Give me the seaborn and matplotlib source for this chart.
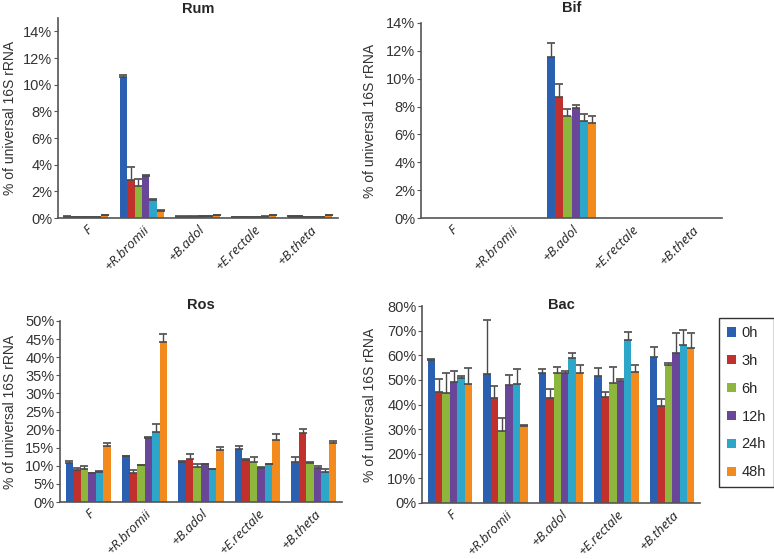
import matplotlib
matplotlib.use("Agg")
import matplotlib.pyplot as plt
import seaborn as sns
import pandas as pd
import numpy as np
from matplotlib.ticker import FuncFormatter
from matplotlib.patches import Patch

groups = ["F", "+R.bromii", "+B.adol", "+E.rectale", "+B.theta"]
times = ["0h", "3h", "6h", "12h", "24h", "48h"]
colors = ["#2B5FB0", "#C0302D", "#8CB63C", "#6A4699", "#2EA6C9", "#F28A1E"]

# values in %, one row per group, one column per time point
rum_mean = [[0.10, 0.06, 0.05, 0.06, 0.08, 0.20],
            [10.55, 2.85, 2.42, 3.15, 1.38, 0.55],
            [0.10, 0.10, 0.10, 0.12, 0.12, 0.22],
            [0.08, 0.08, 0.08, 0.08, 0.10, 0.22],
            [0.15, 0.15, 0.08, 0.08, 0.08, 0.20]]
rum_err = [[0.02, 0.01, 0.01, 0.01, 0.01, 0.03],
           [0.20, 0.95, 0.50, 0.05, 0.05, 0.05],
           [0.02, 0.02, 0.02, 0.02, 0.02, 0.03],
           [0.02, 0.02, 0.02, 0.02, 0.02, 0.03],
           [0.02, 0.02, 0.02, 0.02, 0.02, 0.03]]

bif_mean = [[0, 0, 0, 0, 0, 0],
            [0, 0, 0, 0, 0, 0],
            [11.53, 8.66, 7.33, 7.88, 6.99, 6.85],
            [0, 0, 0, 0, 0, 0],
            [0, 0, 0, 0, 0, 0]]
bif_err = [[0, 0, 0, 0, 0, 0],
           [0, 0, 0, 0, 0, 0],
           [1.05, 0.96, 0.47, 0.26, 0.51, 0.50],
           [0, 0, 0, 0, 0, 0],
           [0, 0, 0, 0, 0, 0]]

ros_mean = [[10.85, 8.8, 9.0, 7.9, 8.4, 15.6],
            [12.6, 8.1, 10.1, 17.6, 19.4, 44.2],
            [11.1, 12.0, 9.7, 10.4, 9.0, 14.3],
            [14.7, 11.5, 11.0, 9.5, 10.4, 17.1],
            [11.0, 19.1, 10.85, 9.5, 8.2, 16.4]]
ros_err = [[0.45, 0.5, 0.9, 0.2, 0.15, 0.8],
           [0.1, 0.7, 0.2, 0.3, 2.1, 2.2],
           [0.3, 1.2, 0.8, 0.1, 0.1, 1.0],
           [0.8, 0.3, 1.3, 0.2, 0.1, 1.7],
           [1.5, 1.2, 0.1, 0.4, 0.8, 0.5]]

bac_mean = [[58.0, 45.1, 44.8, 49.3, 50.6, 48.2],
            [52.5, 42.5, 29.3, 47.8, 48.3, 31.4],
            [52.9, 42.8, 52.6, 52.9, 58.8, 52.6],
            [51.6, 43.2, 48.9, 49.4, 66.1, 53.2],
            [59.4, 39.5, 55.9, 61.0, 64.0, 62.8]]
bac_err = [[0.3, 5.1, 7.8, 4.4, 1.0, 6.7],
           [21.7, 5.1, 5.4, 4.2, 6.2, 0.2],
           [1.6, 3.4, 2.7, 0.7, 2.2, 3.3],
           [3.1, 2.0, 6.4, 1.1, 3.5, 2.8],
           [3.8, 2.7, 0.8, 8.1, 6.4, 6.3]]

sns.set_style("ticks")
plt.rcParams["font.family"] = ["Liberation Sans", "DejaVu Sans"]

W, H = 774, 559
fig = plt.figure(figsize=(W / 100, H / 100), dpi=100)


def px_axes(left, right, top, bottom):
    return fig.add_axes([left / W, 1 - bottom / H, (right - left) / W, (bottom - top) / H])


# title, means, errors, axes box (px), y max, tick step, last tick, ylabel right edge x, title y
panels = [
    ("Rum", rum_mean, rum_err, (58, 338, 18, 218), 15, 2, 14, 17, 9),
    ("Bif", bif_mean, bif_err, (421, 722, 23, 218), 14, 2, 14, 377, 8),
    ("Ros", ros_mean, ros_err, (60, 342, 321, 502), 50, 5, 50, 17, 305),
    ("Bac", bac_mean, bac_err, (422, 700, 306, 503), 80, 10, 80, 377, 305),
]

for title, mean, err, box, ytop, step, tmax, ylx, ty in panels:
    ax = px_axes(*box)
    rows = []
    for gi, g in enumerate(groups):
        for ti, t in enumerate(times):
            rows.append({"group": g, "time": t, "value": mean[gi][ti]})
    df = pd.DataFrame(rows)
    sns.barplot(data=df, x="group", y="value", hue="time", order=groups,
                hue_order=times, palette=colors, saturation=1, errorbar=None,
                width=0.8, linewidth=0, ax=ax, legend=False)
    bar_conts = list(ax.containers)
    for ti, cont in enumerate(bar_conts):
        xs, ys, es = [], [], []
        for gi, bar in enumerate(cont):
            v = mean[gi][ti]
            if v <= 0:
                continue
            xs.append(bar.get_x() + bar.get_width() / 2)
            ys.append(v)
            es.append(err[gi][ti])
        if xs:
            ax.errorbar(xs, ys, yerr=[np.zeros(len(es)), es], fmt="none",
                        ecolor="#4a4a4a", elinewidth=1.0, capsize=3, capthick=1.2)
    ax.set_xlim(-0.5, 4.5)
    ax.set_ylim(0, ytop)
    ax.set_yticks(np.arange(0, tmax + 0.01, step))
    ax.yaxis.set_major_formatter(FuncFormatter(lambda v, p: f"{v:.0f}%"))
    ax.tick_params(axis="y", labelsize=10.5, length=3, color="#555555", pad=1,
                   labelcolor="#333333")
    ax.tick_params(axis="x", length=0, pad=4)
    ax.set_xticks(range(len(groups)))
    ax.set_xticklabels(groups, rotation=45, ha="right", rotation_mode="anchor",
                       fontsize=9.5, family=["Open Sans", "DejaVu Sans"], style="italic",
                       color="#222222")
    ax.set_xlabel("")
    ax.set_ylabel("% of universal 16S rRNA", fontsize=10, color="#333333")
    ax.yaxis.set_label_coords(-(box[0] - ylx) / (box[1] - box[0]), 0.5)
    fig.text((box[0] + box[1]) / 2 / W, 1 - ty / H, title, ha="center", va="center",
             fontsize=10.5, fontweight="bold")
    for s in ("top", "right"):
        ax.spines[s].set_visible(False)
    for s in ("left", "bottom"):
        ax.spines[s].set_color("#555555")
        ax.spines[s].set_linewidth(1.2)

handles = [Patch(facecolor=c, edgecolor="none") for c in colors]
leg = fig.legend(handles, times, loc="upper left", bbox_to_anchor=(719 / W, 1 - 318 / H),
                 frameon=True, fancybox=False, edgecolor="black", fontsize=10.5,
                 handlelength=0.6, handleheight=0.6, labelspacing=0.95,
                 handletextpad=0.4, borderpad=0.55, borderaxespad=0)
leg.get_frame().set_linewidth(1.0)

fig.savefig("out.png", dpi=100)
